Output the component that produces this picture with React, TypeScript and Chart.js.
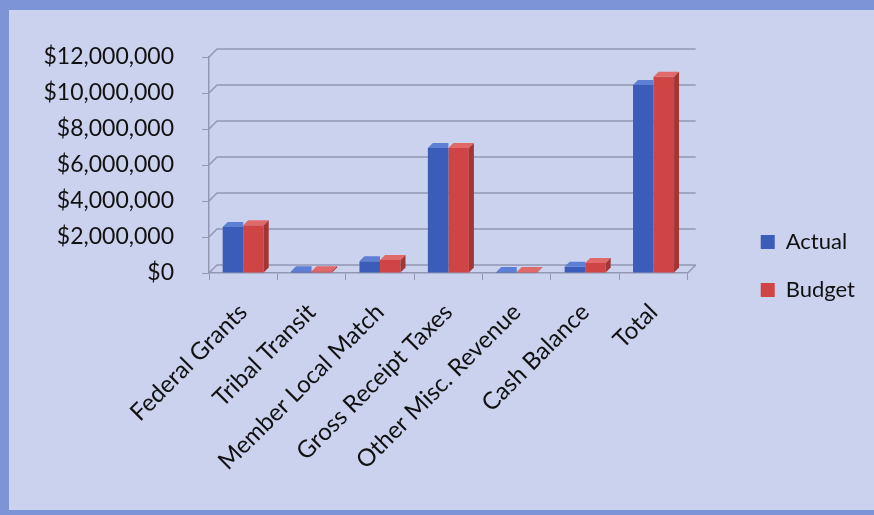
import React, { useEffect, useRef } from "react";
import { Chart, registerables } from "chart.js";

Chart.register(...registerables);

const categories = [
  "Federal Grants",
  "Tribal Transit",
  "Member Local Match",
  "Gross Receipt Taxes",
  "Other Misc. Revenue",
  "Cash Balance",
  "Total",
];
const actualValues = [2550000, 100000, 650000, 6950000, 50000, 350000, 10450000];
const budgetValues = [2650000, 100000, 720000, 6950000, 50000, 550000, 10900000];
const yMin = 0;
const yMax = 12000000;
const yStep = 2000000;

const seriesNames = ["Actual", "Budget"];
const frontColors = ["#3b5cb8", "#cf4545"];
const topColors = ["#5d7fd4", "#e06a6a"];
const sideColors = ["#2a438c", "#a33535"];

const DX = 8;
const DY = 8;
const BD = 5;

const threeD = {
  id: "threeD",
  beforeDatasetsDraw(chart: any) {
    const { ctx, chartArea, scales } = chart;
    const y = scales.y;
    ctx.save();
    ctx.strokeStyle = "#9298b2";
    ctx.lineWidth = 1.5;
    y.ticks.forEach((_t: any, i: number) => {
      const py = y.getPixelForTick(i);
      ctx.beginPath();
      ctx.moveTo(chartArea.left, py);
      ctx.lineTo(chartArea.left + DX, py - DY);
      ctx.lineTo(chartArea.right + DX, py - DY);
      ctx.stroke();
    });
    const p0 = y.getPixelForValue(0);
    ctx.beginPath();
    ctx.moveTo(chartArea.right, p0);
    ctx.lineTo(chartArea.right + DX, p0 - DY);
    ctx.stroke();
    ctx.restore();
  },
  afterDatasetsDraw(chart: any) {
    const { ctx } = chart;
    ctx.save();
    chart.data.datasets.forEach((_ds: any, di: number) => {
      const meta = chart.getDatasetMeta(di);
      meta.data.forEach((bar: any) => {
        const { x, y, base, width } = bar.getProps(["x", "y", "base", "width"], true);
        const left = x - width / 2;
        const right = x + width / 2;
        const last = di === chart.data.datasets.length - 1;
        ctx.save();
        if (!last) {
          ctx.beginPath();
          ctx.rect(left, 0, width, chart.height);
          ctx.clip();
        }
        ctx.fillStyle = topColors[di];
        ctx.beginPath();
        ctx.moveTo(left, y);
        ctx.lineTo(left + BD, y - BD);
        ctx.lineTo(right + BD, y - BD);
        ctx.lineTo(right, y);
        ctx.closePath();
        ctx.fill();
        if (last) {
          ctx.fillStyle = sideColors[di];
          ctx.beginPath();
          ctx.moveTo(right, y);
          ctx.lineTo(right + BD, y - BD);
          ctx.lineTo(right + BD, base - BD);
          ctx.lineTo(right, base);
          ctx.closePath();
          ctx.fill();
        }
        ctx.restore();
      });
    });
    ctx.restore();
  },
};

const FONT = "Lato, 'Open Sans', sans-serif";

export default function App() {
  const ref = useRef<HTMLCanvasElement | null>(null);

  useEffect(() => {
    if (!ref.current) return;
    const chart = new Chart(ref.current, {
      type: "bar",
      data: {
        labels: categories,
        datasets: [
          { label: seriesNames[0], data: actualValues, backgroundColor: frontColors[0], borderWidth: 0 },
          { label: seriesNames[1], data: budgetValues, backgroundColor: frontColors[1], borderWidth: 0 },
        ],
      },
      plugins: [threeD],
      options: {
        responsive: false,
        animation: false,
        devicePixelRatio: 1,
        layout: { padding: { top: 57, bottom: 40, left: 0, right: 9 } },
        datasets: { bar: { categoryPercentage: 0.6, barPercentage: 1 } } as any,
        plugins: {
          legend: {
            position: "right",
            labels: {
              boxWidth: 14,
              boxHeight: 14,
              padding: 26,
              color: "#111",
              font: { family: FONT, size: 22 },
            },
          },
          tooltip: { enabled: false },
        },
        scales: {
          x: {
            grid: { drawOnChartArea: false, drawTicks: true, tickLength: 7, color: "#9298b2", offset: true },
            border: { display: true, color: "#9298b2", width: 1.5 },
            ticks: {
              autoSkip: false,
              maxRotation: 45,
              minRotation: 45,
              padding: 18,
              color: "#111",
              font: { family: FONT, size: 24 },
            },
            afterFit: (s: any) => {
              s.height = 202;
            },
          },
          y: {
            min: yMin,
            max: yMax,
            grid: { drawOnChartArea: false, drawTicks: true, tickLength: 7, color: "#9298b2" },
            border: { display: true, color: "#9298b2", width: 1.5 },
            ticks: {
              stepSize: yStep,
              padding: 28,
              color: "#111",
              font: { family: FONT, size: 23 },
              callback: (v: any) => "$" + Number(v).toLocaleString("en-US"),
            },
            afterFit: (s: any) => {
              s.width = 209;
            },
          },
          y2: {
            position: "right",
            display: true,
            grid: { display: false },
            border: { display: false },
            ticks: { display: false },
            afterFit: (s: any) => {
              s.width = 47;
            },
          },
        },
      },
    });
    return () => chart.destroy();
  }, []);

  return (
    <div
      style={{
        position: "fixed",
        left: 0,
        top: 0,
        width: 874,
        height: 515,
        background: "#7d95d6",
        overflow: "hidden",
      }}
    >
      <div
        style={{
          position: "absolute",
          left: 9,
          top: 10,
          right: 0,
          bottom: 5,
          background: "#cbd2ee",
        }}
      />
      <canvas
        ref={ref}
        width={874}
        height={515}
        style={{ position: "absolute", left: 0, top: 0, width: 874, height: 515 }}
      />
    </div>
  );
}
